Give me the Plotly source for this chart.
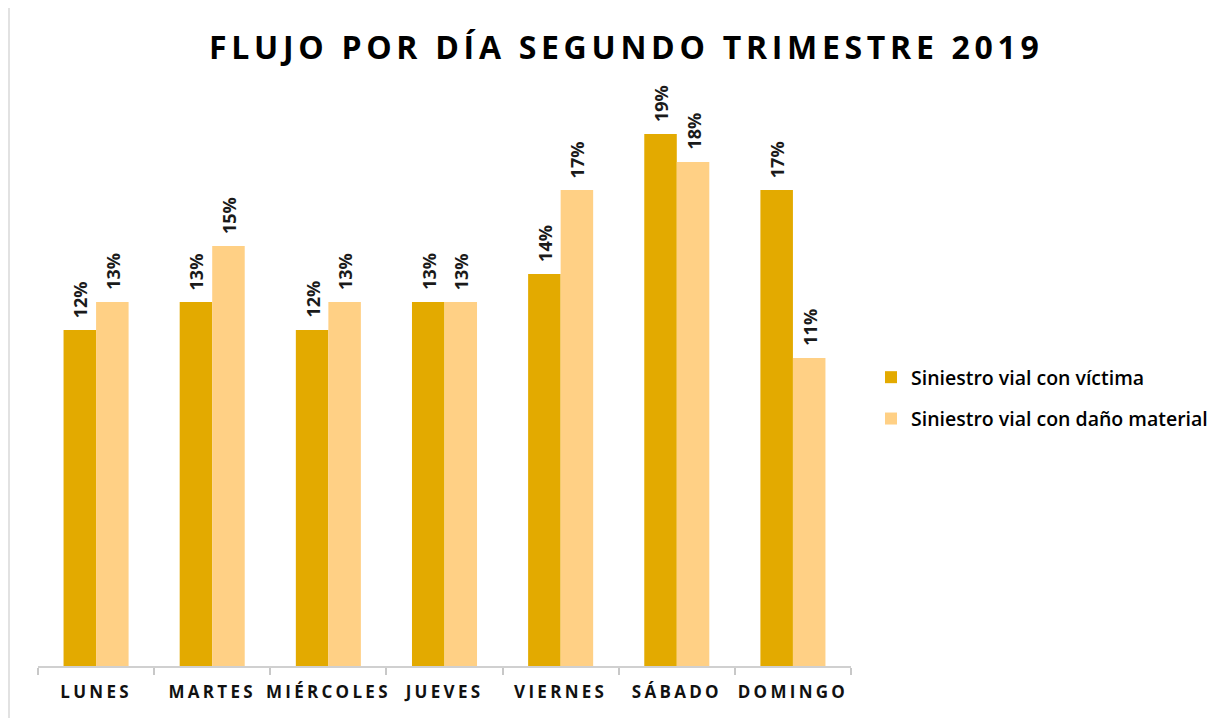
import plotly.graph_objects as go

dias = ["LUNES", "MARTES", "MIÉRCOLES", "JUEVES", "VIERNES", "SÁBADO", "DOMINGO"]
victima = [12, 13, 12, 13, 14, 19, 17]
danio = [13, 15, 13, 13, 17, 18, 11]
serie_victima = "Siniestro vial con víctima"
serie_danio = "Siniestro vial con daño material"
titulo = "FLUJO POR DÍA SEGUNDO TRIMESTRE 2019"

C_DARK = "#E3AA00"
C_LIGHT = "#FFD085"

BARGAP = 0.44
BW = (1 - BARGAP) / 2

def spaced(s, px):
    return f'<span style="letter-spacing:{px}px">{s}</span>'

fig = go.Figure()
series = [(serie_victima, victima, C_DARK, "a", -BW / 2), (serie_danio, danio, C_LIGHT, "b", BW / 2)]
annotations = []
for name, vals, col, grp, off in series:
    fig.add_trace(go.Bar(
        x=dias, y=vals, name=name, marker=dict(color=col, line=dict(width=0)),
        legendgroup=grp, cliponaxis=False,
    ))
    for i, v in enumerate(vals):
        annotations.append(dict(
            x=i + off, y=v, xref="x", yref="y", text=f"{v}%", showarrow=False,
            textangle=-90, xanchor="center", yanchor="bottom", yshift=10,
            font=dict(family="Open Sans", size=18, color="#1a1a1a", weight="bold"),
        ))

# page offset: browser body margin of 8px
OFF = 8
W, H = 1226 - OFF, 718 - OFF
L, T = 38 - OFF, 106 - OFF
R = W - (851 - OFF)
B = H - (666 - OFF)
pw = W - L - R
ph = H - T - B

def px_x(p):
    return (p - OFF - L) / pw

def px_y(p):
    return (H - B - (p - OFF)) / ph

fig.update_layout(
    width=W, height=H,
    margin=dict(l=L, r=R, t=T, b=B, autoexpand=False),
    paper_bgcolor="white", plot_bgcolor="white",
    barmode="group", bargap=BARGAP, bargroupgap=0,
    title=dict(text=spaced(titulo, 4.7), xref="container", x=(209 - OFF) / W, xanchor="left",
               yref="container", y=1 - (48 - OFF) / H, yanchor="middle",
               font=dict(family="Open Sans", size=32, color="black", weight="bold")),
    legend=dict(x=px_x(871), xanchor="left", y=px_y(398), yanchor="middle",
                font=dict(family="Open Sans", size=19.5, color="black", weight=600),
                tracegroupgap=13, itemwidth=30, bgcolor="rgba(0,0,0,0)"),
    xaxis=dict(type="category", tickmode="array", tickvals=dias, ticktext=[spaced(d, 3.3) for d in dias],
               range=[-0.5, len(dias) - 0.5], tickangle=0,
               showline=True, linecolor="#D0D0D0", linewidth=1.5,
               ticks="outside", tickson="boundaries", ticklen=7, tickcolor="#C8C8C8", tickwidth=1.5,
               ticklabelstandoff=10,
               tickfont=dict(family="Open Sans", size=17, color="#111", weight="bold"),
               showgrid=False),
    yaxis=dict(range=[0, 20], visible=False, showgrid=False),
    annotations=annotations,
    shapes=[
        dict(type="line", xref="paper", yref="paper", x0=px_x(9), x1=px_x(1240), y0=px_y(3), y1=px_y(3),
             line=dict(color="#D9D9D9", width=1.5)),
        dict(type="line", xref="paper", yref="paper", x0=px_x(9), x1=px_x(9), y0=px_y(3), y1=px_y(730),
             line=dict(color="#D9D9D9", width=1.5)),
    ],
)

fig.write_html("out.html")
